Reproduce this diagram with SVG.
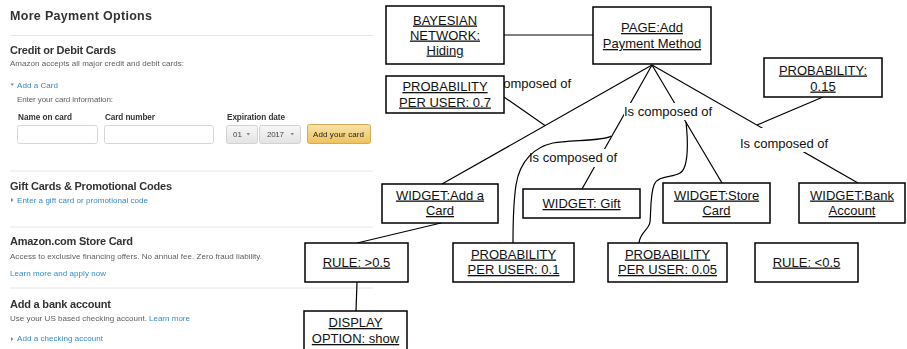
<svg xmlns="http://www.w3.org/2000/svg" width="907" height="349" viewBox="0 0 907 349">
<defs>
  <linearGradient id="btnFill" x1="0" y1="0" x2="0" y2="1">
    <stop offset="0" stop-color="#f8e3ad"/>
    <stop offset="1" stop-color="#eec25a"/>
  </linearGradient>
  <linearGradient id="selFill" x1="0" y1="0" x2="0" y2="1">
    <stop offset="0" stop-color="#f7f7f7"/>
    <stop offset="1" stop-color="#e3e3e3"/>
  </linearGradient>
  <filter id="soft" x="-2%" y="-2%" width="104%" height="104%">
    <feGaussianBlur stdDeviation="0.3"/>
  </filter>
</defs>
<style>
  .ui { font-family: "Liberation Sans", Arial, sans-serif; }
  .h1 { font-size: 12.5px; font-weight: bold; fill: #333; }
  .h2 { font-size: 11px; font-weight: bold; fill: #333; }
  .lbl { font-size: 8.2px; font-weight: bold; fill: #333; }
  .txt { font-size: 8px; fill: #5e5e5e; }
  .lnk { font-size: 8px; fill: #3589cc; }
  .sel { font-size: 8px; fill: #444; }
  .btn { font-size: 8px; fill: #222; }
  .rule { stroke: #e6e6e6; stroke-width: 1; }
  .field { fill: #fff; stroke: #d6d6d6; stroke-width: 1; }
  .caret { fill: #888; }
  .node rect { fill: #fff; stroke: #000; stroke-width: 1.5; }
  .node text { font-family: "Liberation Sans", Arial, sans-serif; font-size: 13px; fill: #111; text-anchor: middle; text-decoration: underline; }
  .edge { fill: none; stroke: #000; stroke-width: 1.2; }
  .tag { font-family: "Liberation Sans", Arial, sans-serif; font-size: 13px; fill: #111; }
  .tagbg { fill: #fff; }
</style>

<rect width="907" height="349" fill="#fff"/>

<!-- Payment options page -->
<g id="payment-panel" class="ui" filter="url(#soft)">
  <text class="h1" x="10" y="19.5" textLength="142">More Payment Options</text>
  <line class="rule" x1="10" y1="35.5" x2="373" y2="35.5"/>

  <text class="h2" x="10" y="54" textLength="106">Credit or Debit Cards</text>
  <text class="txt" x="10" y="66" textLength="174">Amazon accepts all major credit and debit cards:</text>
  <polygon class="caret" points="10.5,83.5 14,83.5 12.25,86"/>
  <text class="lnk" x="17" y="88" textLength="41">Add a Card</text>
  <text class="txt" x="17" y="101.5" textLength="96">Enter your card information:</text>

  <text class="lbl" x="18" y="120" textLength="54">Name on card</text>
  <text class="lbl" x="105" y="120" textLength="50">Card number</text>
  <text class="lbl" x="227" y="120" textLength="58">Expiration date</text>

  <rect class="field" x="17.5" y="125.5" width="80" height="18" rx="2"/>
  <rect class="field" x="104.5" y="125.5" width="109" height="18" rx="2"/>

  <rect x="226.5" y="125.5" width="31" height="18" rx="2" fill="url(#selFill)" stroke="#d2d2d2"/>
  <text class="sel" x="233" y="137">01</text>
  <polygon class="caret" points="246.5,133 250,133 248.25,135.5"/>
  <rect x="259.5" y="125.5" width="41" height="18" rx="2" fill="url(#selFill)" stroke="#d2d2d2"/>
  <text class="sel" x="267" y="137" textLength="17">2017</text>
  <polygon class="caret" points="290.5,133 294,133 292.25,135.5"/>

  <rect x="307.5" y="124.5" width="63" height="19" rx="2" fill="url(#btnFill)" stroke="#d3ab52"/>
  <text class="btn" x="313" y="137" textLength="51">Add your card</text>

  <line class="rule" x1="10" y1="171" x2="373" y2="171"/>

  <text class="h2" x="10" y="190" textLength="162">Gift Cards &amp; Promotional Codes</text>
  <polygon class="caret" points="11,198 11,202 13.5,200"/>
  <text class="lnk" x="17" y="202.5" textLength="131">Enter a gift card or promotional code</text>

  <line class="rule" x1="10" y1="227" x2="373" y2="227"/>

  <text class="h2" x="10" y="245" textLength="123">Amazon.com Store Card</text>
  <text class="txt" x="10" y="259" textLength="252">Access to exclusive financing offers. No annual fee. Zero fraud liability.</text>
  <text class="lnk" x="10" y="276" textLength="96">Learn more and apply now</text>

  <line class="rule" x1="10" y1="288" x2="373" y2="288"/>

  <text class="h2" x="10" y="308" textLength="101">Add a bank account</text>
  <text class="txt" x="10" y="320.5" textLength="137">Use your US based checking account.</text>
  <text class="lnk" x="149" y="320.5" textLength="41">Learn more</text>
  <polygon class="caret" points="11,337 11,341 13.5,339"/>
  <text class="lnk" x="17" y="341" textLength="86">Add a checking account</text>
</g>

<!-- Connectors -->
<g id="connectors">
  <line class="edge" x1="504" y1="35" x2="593" y2="35"/>
  <line class="edge" x1="652" y1="65" x2="442" y2="184"/>
  <line class="edge" x1="504" y1="97" x2="545" y2="125.5"/>
  <line class="edge" x1="652" y1="65" x2="582" y2="189"/>
  <line class="edge" x1="652" y1="65" x2="722" y2="183"/>
  <line class="edge" x1="652" y1="65" x2="858" y2="183"/>
  <line class="edge" x1="823" y1="97" x2="757" y2="125"/>
  <line class="edge" x1="441" y1="223" x2="357" y2="243"/>
  <line class="edge" x1="357" y1="282" x2="356" y2="311"/>

  <text class="tag" x="483" y="87.5">Is composed of</text>

  <rect class="tagbg" x="624" y="103" width="89" height="17"/>
  <text class="tag" x="624" y="115.5">Is composed of</text>

  <rect class="tagbg" x="528" y="149" width="90" height="18"/>
  <text class="tag" x="529" y="161.5">Is composed of</text>

  <rect class="tagbg" x="739" y="128" width="90" height="24"/>
  <text class="tag" x="740" y="147.5">Is composed of</text>

  <path class="edge" d="M611 136 C606 141 570 140 553 143 C535 147 520 160 516 185 C513 205 513 225 513 243"/>
  <path class="edge" d="M686 122 C688 140 689 168 680 173 C672 178 658 175 654 185 C650 195 651 215 650 222 C649 230 640 232 639 243"/>
</g>

<!-- Nodes -->
<g id="bayesian-network" class="node">
  <rect x="386" y="6" width="118" height="58"/>
  <text x="445" y="24.5">BAYESIAN</text>
  <text x="445" y="39.5">NETWORK:</text>
  <text x="445" y="54.5">Hiding</text>
</g>
<g id="page-add-payment" class="node">
  <rect x="593" y="7" width="118" height="57"/>
  <text x="652" y="32">PAGE:Add</text>
  <text x="652" y="48">Payment Method</text>
</g>
<g id="probability-07" class="node">
  <rect x="386" y="76" width="118" height="37"/>
  <text x="445" y="91">PROBABILITY</text>
  <text x="445" y="106.5">PER USER: 0.7</text>
</g>
<g id="probability-015" class="node">
  <rect x="764" y="58" width="118" height="39"/>
  <text x="823" y="74.5">PROBABILITY:</text>
  <text x="823" y="90.5">0.15</text>
</g>
<g id="widget-add-card" class="node">
  <rect x="382" y="184" width="116" height="39"/>
  <text x="440" y="199.5">WIDGET:Add a</text>
  <text x="440" y="215">Card</text>
</g>
<g id="widget-gift" class="node">
  <rect x="523" y="189" width="117" height="29"/>
  <text x="581.5" y="208">WIDGET: Gift</text>
</g>
<g id="widget-store-card" class="node">
  <rect x="663" y="183" width="107" height="40"/>
  <text x="716.5" y="199.5">WIDGET:Store</text>
  <text x="716.5" y="215">Card</text>
</g>
<g id="widget-bank-account" class="node">
  <rect x="799" y="183" width="106" height="40"/>
  <text x="852" y="199.5">WIDGET:Bank</text>
  <text x="852" y="215">Account</text>
</g>
<g id="rule-gt" class="node">
  <rect x="305" y="243" width="103" height="39"/>
  <text x="356.5" y="266.5">RULE: &gt;0.5</text>
</g>
<g id="probability-01" class="node">
  <rect x="453" y="243" width="121" height="39"/>
  <text x="513.5" y="258.5">PROBABILITY</text>
  <text x="513.5" y="274">PER USER: 0.1</text>
</g>
<g id="probability-005" class="node">
  <rect x="608" y="243" width="119" height="39"/>
  <text x="667.5" y="258.5">PROBABILITY</text>
  <text x="667.5" y="274">PER USER: 0.05</text>
</g>
<g id="rule-lt" class="node">
  <rect x="755" y="243" width="103" height="39"/>
  <text x="806.5" y="266.5">RULE: &lt;0.5</text>
</g>
<g id="display-option" class="node">
  <rect x="304" y="311" width="103" height="44"/>
  <text x="355.5" y="327">DISPLAY</text>
  <text x="355.5" y="343">OPTION: show</text>
</g>
</svg>
